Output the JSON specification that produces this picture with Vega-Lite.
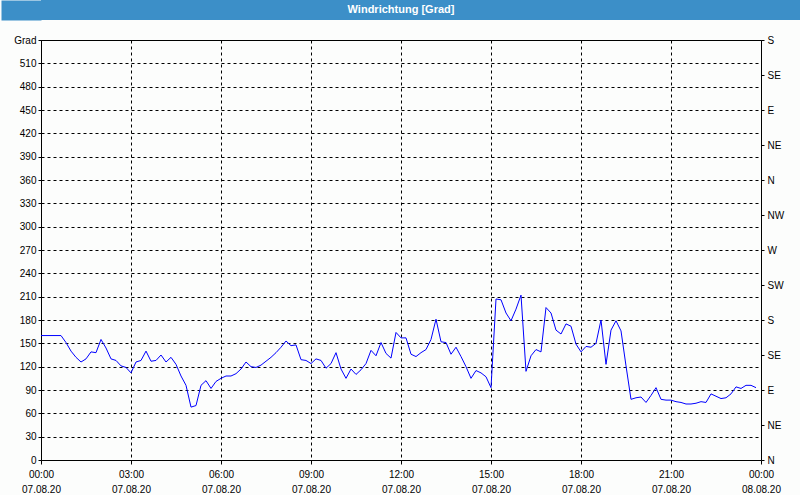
{
  "$schema": "https://vega.github.io/schema/vega-lite/v6.json",
  "background": "#fcfdfc",
  "padding": 0,
  "spacing": 14,
  "config": {
    "view": {"stroke": "black", "strokeWidth": 1},
    "axis": {"labelFont": "Liberation Sans", "labelFontSize": 10, "labelColor": "#000", "tickColor": "#000", "domain": false, "titleFont": "Liberation Sans"}
  },
  "vconcat": [
    {
      "width": 760,
      "height": 20,
      "view": {"fill": "#3c8fc8", "stroke": null},
      "data": {"values": [{"t": "Windrichtung [Grad]"}]},
      "mark": {"type": "text", "color": "white", "font": "Liberation Sans", "fontWeight": "bold", "fontSize": 11, "baseline": "middle", "align": "center", "dx": -20},
      "encoding": {
        "text": {"field": "t"},
        "y": {"field": "t", "type": "nominal",
          "axis": {"title": null, "labels": false, "ticks": false, "grid": false, "domain": true,
            "domainColor": "#3c8fc8", "domainWidth": 40, "offset": 20}}
      }
    },
    {
      "width": 720,
      "height": 420,
      "data": {"values": [
        {"m":0,"v":160},{"m":10,"v":160},{"m":20,"v":160},{"m":30,"v":160},{"m":40,"v":160},
        {"m":50,"v":151},{"m":60,"v":140},{"m":70,"v":132},{"m":80,"v":126},{"m":90,"v":130},
        {"m":100,"v":139},{"m":110,"v":138},{"m":120,"v":155},{"m":130,"v":144},{"m":140,"v":130},
        {"m":150,"v":128},{"m":160,"v":121},{"m":170,"v":119},{"m":180,"v":112},{"m":190,"v":126},
        {"m":200,"v":128},{"m":210,"v":140},{"m":220,"v":127},{"m":230,"v":128},{"m":240,"v":135},
        {"m":250,"v":126},{"m":260,"v":132},{"m":270,"v":123},{"m":280,"v":108},{"m":290,"v":96},
        {"m":300,"v":68},{"m":310,"v":70},{"m":320,"v":96},{"m":330,"v":102},{"m":340,"v":92},
        {"m":350,"v":101},{"m":360,"v":105},{"m":370,"v":108},{"m":380,"v":108},{"m":390,"v":111},
        {"m":400,"v":117},{"m":410,"v":126},{"m":420,"v":120},{"m":430,"v":119},{"m":440,"v":122},
        {"m":450,"v":127},{"m":460,"v":132},{"m":470,"v":138},{"m":480,"v":145},{"m":490,"v":153},
        {"m":500,"v":147},{"m":510,"v":148},{"m":520,"v":129},{"m":530,"v":128},{"m":540,"v":124},
        {"m":550,"v":130},{"m":560,"v":128},{"m":570,"v":118},{"m":580,"v":124},{"m":590,"v":138},
        {"m":600,"v":117},{"m":610,"v":105},{"m":620,"v":117},{"m":630,"v":110},{"m":640,"v":116},
        {"m":650,"v":124},{"m":660,"v":141},{"m":670,"v":134},{"m":680,"v":151},{"m":690,"v":137},
        {"m":700,"v":131},{"m":710,"v":164},{"m":720,"v":157},{"m":730,"v":157},{"m":740,"v":136},
        {"m":750,"v":133},{"m":760,"v":138},{"m":770,"v":142},{"m":780,"v":155},{"m":790,"v":181},
        {"m":800,"v":152},{"m":810,"v":151},{"m":820,"v":136},{"m":830,"v":145},{"m":840,"v":133},
        {"m":850,"v":120},{"m":860,"v":105},{"m":870,"v":115},{"m":880,"v":112},{"m":890,"v":107},
        {"m":900,"v":93},{"m":905,"v":150},{"m":910,"v":207},{"m":920,"v":206},{"m":930,"v":189},
        {"m":940,"v":179},{"m":950,"v":194},{"m":960,"v":212},{"m":970,"v":114},{"m":980,"v":134},
        {"m":990,"v":142},{"m":1000,"v":139},{"m":1010,"v":196},{"m":1020,"v":189},{"m":1030,"v":167},
        {"m":1040,"v":162},{"m":1050,"v":175},{"m":1060,"v":172},{"m":1070,"v":149},{"m":1080,"v":139},
        {"m":1090,"v":146},{"m":1100,"v":145},{"m":1110,"v":150},{"m":1120,"v":180},{"m":1130,"v":123},
        {"m":1140,"v":167},{"m":1150,"v":179},{"m":1160,"v":166},{"m":1170,"v":121},{"m":1180,"v":78},
        {"m":1190,"v":80},{"m":1200,"v":81},{"m":1210,"v":74},{"m":1220,"v":83},{"m":1230,"v":93},
        {"m":1240,"v":78},{"m":1250,"v":77},{"m":1260,"v":77},{"m":1270,"v":75},{"m":1280,"v":74},
        {"m":1290,"v":72},{"m":1300,"v":72},{"m":1310,"v":73},{"m":1320,"v":75},{"m":1330,"v":74},
        {"m":1340,"v":85},{"m":1350,"v":82},{"m":1360,"v":79},{"m":1370,"v":80},{"m":1380,"v":85},
        {"m":1390,"v":94},{"m":1400,"v":92},{"m":1410,"v":96},{"m":1420,"v":96},{"m":1430,"v":93}
      ]},
      "layer": [
        {
          "mark": {"type": "line", "color": "#0000ff", "strokeWidth": 1, "interpolate": "linear"},
          "encoding": {
            "x": {"field": "m", "type": "quantitative",
              "scale": {"domain": [0, 1440], "nice": false, "zero": false},
              "axis": {"title": null,
                "values": [0,180,360,540,720,900,1080,1260,1440],
                "labelExpr": "[(floor(datum.value/60)%24 < 10 ? '0' : '') + (floor(datum.value/60)%24) + ':00', datum.value === 1440 ? '08.08.20' : '07.08.20']",
                "labelLineHeight": 15, "labelPadding": 5, "labelFlush": false, "labelOverlap": false,
                "tickSize": 4, "grid": true, "gridColor": "#000", "gridDash": [3, 3], "gridWidth": 1}
            },
            "y": {"field": "v", "type": "quantitative",
              "scale": {"domain": [0, 540], "nice": false},
              "axis": {"title": null, "orient": "left",
                "values": [0,30,60,90,120,150,180,210,240,270,300,330,360,390,420,450,480,510,540],
                "labelExpr": "datum.value === 540 ? 'Grad' : datum.label",
                "tickSize": 3, "labelPadding": 2, "minExtent": 40,
                "grid": true, "gridColor": "#000", "gridDash": [3, 3], "gridWidth": 1}
            }
          }
        },
        {
          "mark": {"type": "line", "strokeOpacity": 0},
          "encoding": {
            "x": {"field": "m", "type": "quantitative"},
            "y": {"field": "v", "type": "quantitative",
              "axis": {"title": null, "orient": "right",
                "values": [0,45,90,135,180,225,270,315,360,405,450,495,540],
                "labelExpr": "['N','NE','E','SE','S','SW','W','NW'][round(datum.value/45) % 8]",
                "tickSize": 3, "labelPadding": 3, "grid": false}
            }
          }
        }
      ],
      "resolve": {"axis": {"y": "independent"}}
    }
  ]
}
